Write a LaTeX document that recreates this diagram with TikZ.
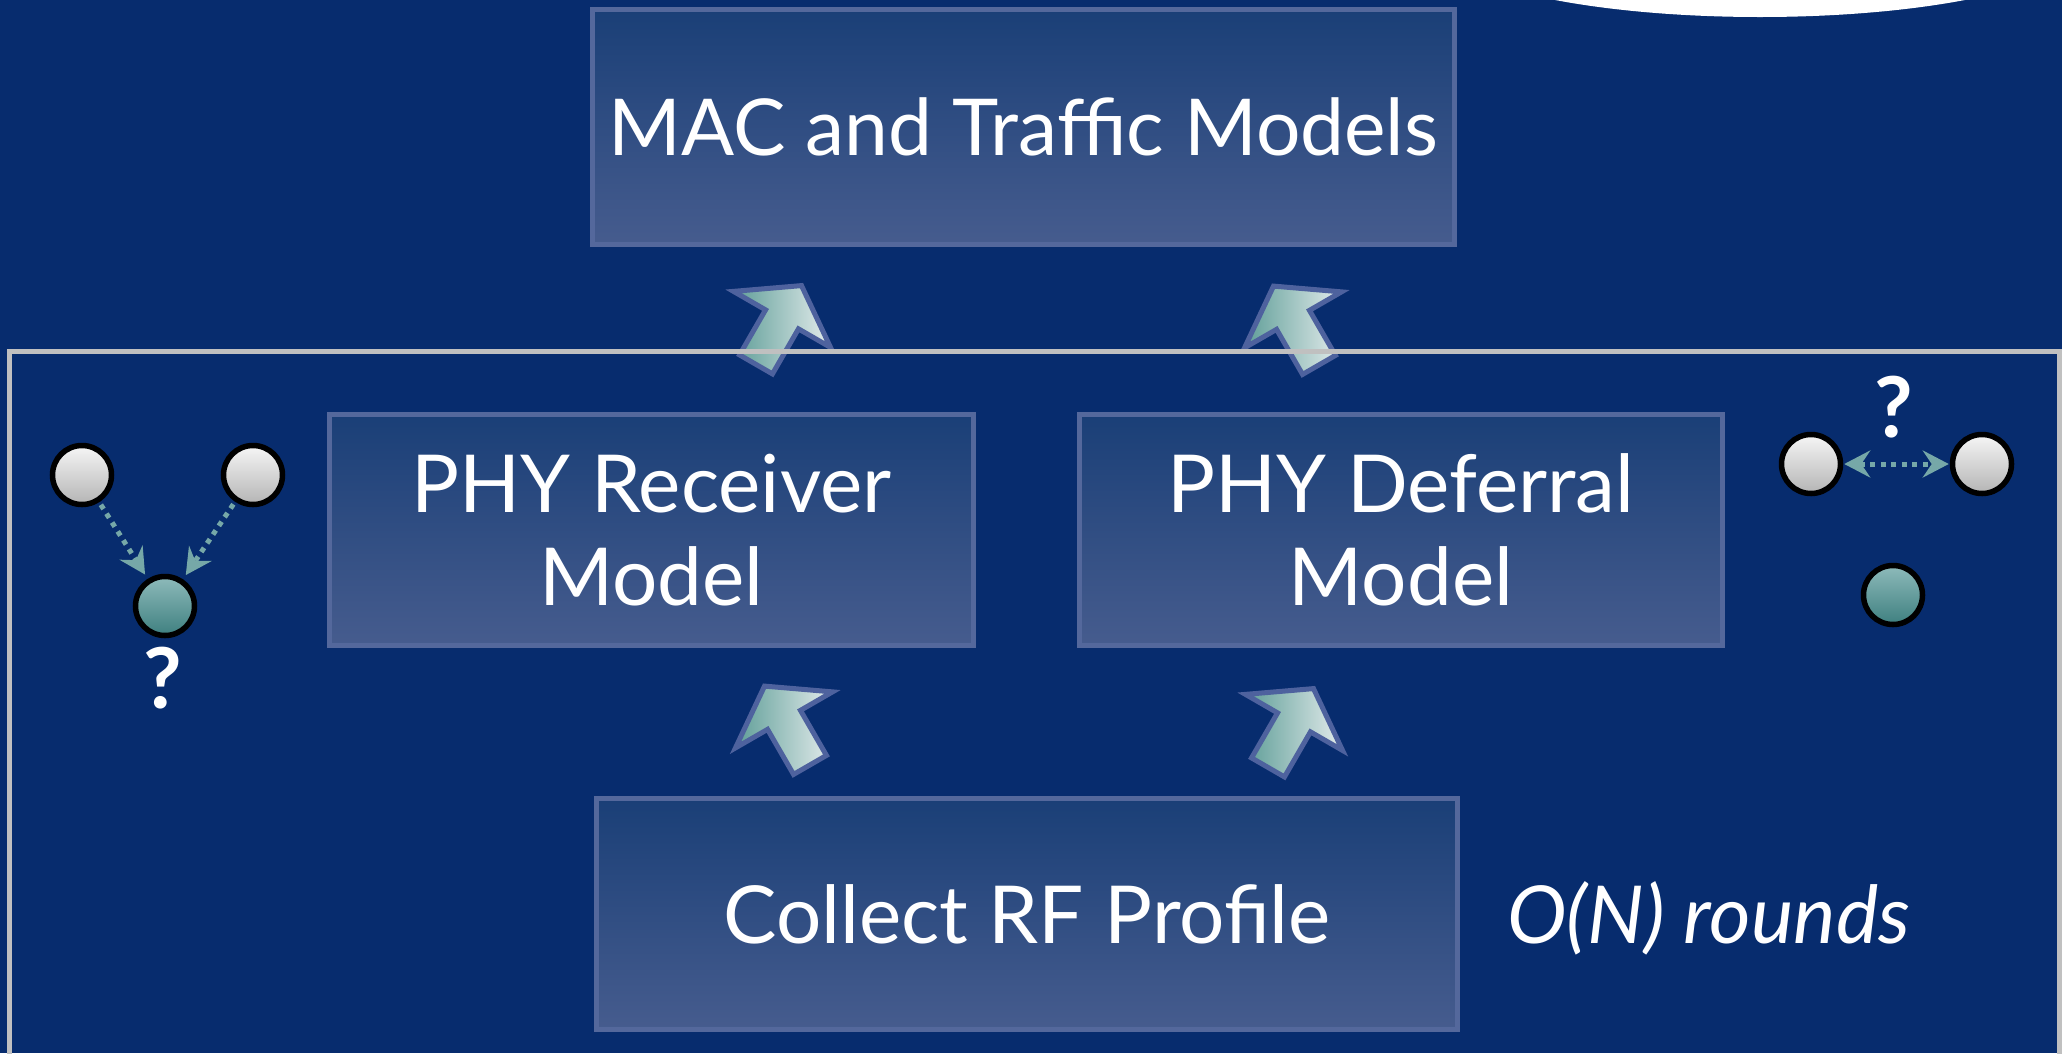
\documentclass[tikz,border=0pt]{standalone}
\usepackage{fontspec}
\setmainfont{Lato}
\usetikzlibrary{arrows.meta}
\definecolor{bg}{RGB}{7,44,110}
\definecolor{boxtop}{RGB}{26,63,119}
\definecolor{boxbot}{RGB}{70,92,142}
\definecolor{boxline}{RGB}{84,104,156}
\definecolor{arrline}{RGB}{78,98,158}
\definecolor{arrdark}{RGB}{95,158,152}
\definecolor{arrlight}{RGB}{228,236,236}
\definecolor{framegray}{RGB}{192,192,192}
\definecolor{dotteal}{RGB}{118,168,168}
\definecolor{nodetop}{RGB}{246,246,246}
\definecolor{nodebot}{RGB}{180,180,180}
\definecolor{tealtop}{RGB}{142,186,186}
\definecolor{tealbot}{RGB}{62,128,128}
\begin{document}
\begin{tikzpicture}[x=1pt,y=-1pt,
  modelbox/.style={draw=boxline, line width=5pt, top color=boxtop, bottom color=boxbot,
    text=white, font=\fontsize{80}{93}\selectfont, align=center, inner sep=0pt},
  arrowshape/.style={draw=arrline, line width=5pt, left color=arrdark, right color=arrlight, line join=miter},
  blockarrow/.pic={\path[arrowshape] (-19,-3) -- (-19,-55) -- (-56,-55) -- (0,-94) -- (56,-55) -- (19,-55) -- (19,-3) -- cycle;},
  graynode/.style={circle, draw=black, line width=5.5pt, minimum size=59pt, inner sep=0pt, top color=nodetop, bottom color=nodebot},
  tealnode/.style={circle, draw=black, line width=5.5pt, minimum size=59pt, inner sep=0pt, top color=tealtop, bottom color=tealbot},
  dotarrow/.style={draw=dotteal, line width=5pt, dash pattern=on 5pt off 5.5pt},
  qmark/.style={text=white, font=\fontsize{84}{93}\selectfont\bfseries, inner sep=0pt, anchor=base},
  tipS/.tip={Stealth[length=26pt,width=27pt,inset=9pt]}
]
\useasboundingbox (0,0) rectangle (2062,1053);
\clip (0,0) rectangle (2062,1053);
\fill[bg] (0,0) rectangle (2062,1053);
% white shape at top right
\fill[white] (1760,-60) ellipse [x radius=327, y radius=77];

% boxes
\node[modelbox, minimum width=862pt, minimum height=235pt, font=\fontsize{78.5}{93}\selectfont] (mac) at (1023.5,127) {MAC and Traffic Models};
\node[modelbox, minimum width=644pt, minimum height=231pt] (rx) at (651.5,530) {PHY Receiver\\Model};
\node[modelbox, minimum width=643pt, minimum height=231pt] (def) at (1401,530) {PHY Deferral\\Model};
\node[modelbox, minimum width=861pt, minimum height=231pt] (rf) at (1027,914) {Collect RF Profile};

% block arrows
\pic[rotate=-30] at (754.5,367) {blockarrow};
\pic[rotate=30] at (1320.5,367.5) {blockarrow};
\pic[rotate=30] at (811.5,767.5) {blockarrow};
\pic[rotate=-30] at (1266.5,770) {blockarrow};

% frame
\draw[framegray, line width=5pt] (9.5,351.5) rectangle (2059.5,1100);

% left node group
\node[graynode] (g1) at (82,475) {};
\node[graynode] (g2) at (253,475) {};
\node[tealnode] (t1) at (165,606) {};
\draw[dotarrow, -tipS, shorten <=3pt, shorten >=5pt] (g1) -- (t1);
\draw[dotarrow, -tipS, shorten <=3pt, shorten >=5pt] (g2) -- (t1);
\node[qmark] (q1) at (163,708) {?};

% right node group
\node[graynode] (g3) at (1811,464) {};
\node[graynode] (g4) at (1982,464) {};
\node[tealnode] (t2) at (1893,595) {};
\draw[dotarrow, tipS-tipS, shorten <=1pt, shorten >=1pt] (g3) -- (g4);
\node[qmark] (q2) at (1894,437) {?};

% rounds label
\node[text=white, font=\fontsize{80}{93}\selectfont\itshape, inner sep=0pt, anchor=base west] (rounds) at (1507,943) {O(N) rounds};
\end{tikzpicture}
\end{document}
